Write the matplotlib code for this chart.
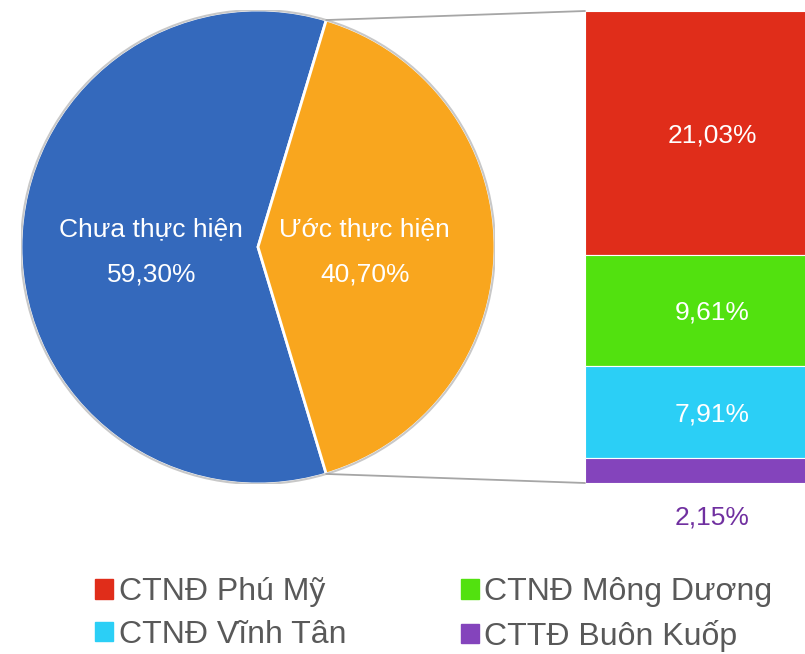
import matplotlib.pyplot as plt
import numpy as np
from matplotlib.patches import Patch, Circle, ConnectionPatch

plt.rcParams['font.family'] = ['Liberation Sans', 'DejaVu Sans']

pie_labels = ["Chưa thực hiện", "Ước thực hiện"]
pie_values = [59.30, 40.70]
pie_colors = ["#3469BC", "#F9A61E"]

bar_labels = ["CTNĐ Phú Mỹ", "CTNĐ Mông Dương", "CTNĐ Vĩnh Tân", "CTTĐ Buôn Kuốp"]
bar_values = [21.03, 9.61, 7.91, 2.15]
bar_colors = ["#E02D1A", "#52E10F", "#2BCFF6", "#8444BC"]

W, H = 805, 654
fig = plt.figure(figsize=(W / 100, H / 100), dpi=100)

# pie on the left
cx, cy, r = 258, 247, 237
ax_pie = fig.add_axes([(cx - r) / W, (H - cy - r) / H, 2 * r / W, 2 * r / H])
start = 180 - (pie_values[0] / 100 * 360) / 2
wedges, _ = ax_pie.pie(pie_values, colors=pie_colors, startangle=start, radius=1,
                       wedgeprops=dict(edgecolor="white", linewidth=2))
ax_pie.add_patch(Circle((0, 0), 1.0, fill=False, edgecolor="#C8C8C8", lw=1.5))
ax_pie.set_xlim(-1, 1)
ax_pie.set_ylim(-1, 1)
ax_pie.set_aspect("equal")
ax_pie.axis("off")

for w, lab, val in zip(wedges, pie_labels, pie_values):
    mid = np.deg2rad((w.theta1 + w.theta2) / 2)
    x, y = 0.45 * np.cos(mid), 0.45 * np.sin(mid)
    ax_pie.text(x, y + 0.075, lab, ha="center", va="center", color="white", fontsize=19)
    ax_pie.text(x, y - 0.115, f"{val:.2f}%".replace(".", ","), ha="center", va="center",
                color="white", fontsize=19)

# stacked bar on the right
bl, bt, bb = 585, 11, 483
bar_w = 254
ax_bar = fig.add_axes([bl / W, (H - bb) / H, (W - bl) / W, (bb - bt) / H])
total = sum(bar_values)
bottom = total
for lab, val, col in zip(bar_labels, bar_values, bar_colors):
    bottom -= val
    ax_bar.bar(0, val, bottom=bottom, width=1, align="edge", color=col,
               edgecolor="white", linewidth=0.8)
    if val > 5:
        ax_bar.text(0.5, bottom + val / 2 - 0.2, f"{val:.2f}%".replace(".", ","), ha="center",
                    va="center", color="white", fontsize=19)
    else:
        ax_bar.text(0.5, bottom - 3.0, f"{val:.2f}%".replace(".", ","), ha="center",
                    va="center", color="#7030A0", fontsize=19, clip_on=False)
ax_bar.set_xlim(0, (W - bl) / bar_w)
ax_bar.set_ylim(0, total)
ax_bar.axis("off")

# connector lines
w_or = wedges[1]
for ang, yb in [(w_or.theta2, total), (w_or.theta1, 0)]:
    a = np.deg2rad(ang)
    con = ConnectionPatch(xyA=(np.cos(a), np.sin(a)), coordsA=ax_pie.transData,
                          xyB=(0, yb), coordsB=ax_bar.transData,
                          color="#A6A6A6", lw=1.3)
    fig.add_artist(con)

# legend (row-wise order)
handles = [Patch(facecolor=c, edgecolor=c) for c in bar_colors]
order = [0, 2, 1, 3]
fig.legend([handles[i] for i in order], [bar_labels[i] for i in order], ncol=2,
           loc="center", bbox_to_anchor=(0.539, 0.06), frameon=False, fontsize=23,
           handlelength=0.55, handleheight=0.55, handletextpad=0.18, columnspacing=3.6,
           labelspacing=0.4, labelcolor="#595959")

fig.savefig("out.png", dpi=100)
